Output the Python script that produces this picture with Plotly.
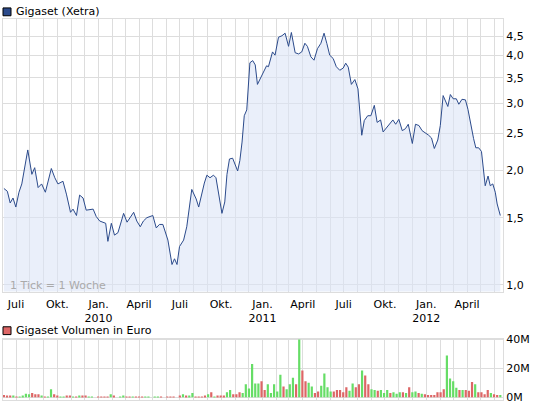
import plotly.graph_objects as go
import pandas as pd

weeks = [0.0,1.1,2.0,2.9,3.8,4.8,5.7,6.7,7.6,8.9,9.8,10.9,12.0,13.2,15.1,16.2,17.2,18.8,19.9,21.2,
         22.0,23.1,24.1,25.2,26.2,28.4,29.4,30.5,32.4,33.1,34.2,35.2,36.3,37.4,38.1,39.2,41.3,42.3,43.4,44.4,
         45.5,47.4,48.5,49.5,50.6,52.2,52.9,53.5,54.3,55.1,55.9,57.2,58.2,59.0,59.8,61.2,62.0,63.8,64.6,65.6,
         66.7,67.5,68.6,69.4,70.3,71.0,71.8,72.8,74.4,75.1,75.8,76.5,77.3,77.9,78.3,79.2,80.0,80.7,82.9,83.6,
         84.2,85.0,85.5,86.3,87.4,88.5,89.5,90.6,91.5,92.7,93.8,94.8,95.8,96.6,97.7,98.7,99.8,100.9,101.9,102.8,
         103.7,104.8,105.8,106.9,108.0,108.8,109.6,110.6,111.7,112.7,113.2,113.9,114.7,115.8,116.8,117.9,118.8,119.9,120.7,121.7,
         122.8,123.8,124.7,125.7,126.8,127.8,128.7,130.0,131.0,132.1,133.1,134.2,135.2,136.1,137.0,138.1,138.9,139.8,140.5,141.3,
         142.1,143.0,144.0,144.8,145.8,146.9,147.7,148.7,149.5,150.2,151.1,152.0,152.7,153.2,154.1,154.8,155.6,156.4,157.0,158.0]
prices = [1.79,1.76,1.64,1.69,1.60,1.75,1.84,2.07,2.26,1.95,2.03,1.80,1.84,1.75,2.02,1.91,1.84,1.87,1.73,1.55,
          1.58,1.52,1.72,1.69,1.57,1.58,1.51,1.47,1.45,1.30,1.45,1.35,1.37,1.47,1.54,1.46,1.55,1.47,1.42,1.47,
          1.50,1.52,1.41,1.44,1.44,1.31,1.20,1.13,1.17,1.13,1.26,1.31,1.42,1.60,1.78,1.68,1.60,1.85,1.94,1.91,
          1.94,1.91,1.69,1.54,1.65,1.95,2.14,2.15,1.99,2.12,2.37,2.78,2.88,3.36,3.83,3.88,3.78,3.36,3.64,3.76,
          3.74,3.97,4.09,4.01,4.47,4.51,4.58,4.23,4.60,4.07,4.04,4.09,4.31,4.23,3.97,3.89,4.17,4.31,4.58,4.30,
          4.01,3.93,3.74,3.66,3.71,3.82,3.73,3.36,3.46,3.27,2.83,2.47,2.70,2.78,2.78,2.96,2.67,2.71,2.52,2.58,
          2.64,2.71,2.64,2.72,2.54,2.57,2.64,2.35,2.64,2.62,2.54,2.51,2.47,2.43,2.28,2.40,2.62,3.14,3.04,2.94,
          3.16,3.08,3.08,2.98,3.07,3.06,2.89,2.59,2.42,2.29,2.29,2.24,2.01,1.82,1.93,1.82,1.84,1.75,1.63,1.52]

volumes = [1.5,1,1,1,0.5,0.5,1,2.5,2,3,2,2,1,0.5,0.5,5.5,2,0.8,0.5,0.5,1,1,0.5,0.5,1,1,1,0.5,0.5,0,
           0.5,0.5,0.5,0.5,2,1,0,0.5,1,0.5,0.5,0.5,0.5,0.5,0.5,0.5,0.5,0,0.5,0.5,0.5,0,0.5,0.5,0.5,0,1,2,1,1,
           3,0.5,0.5,0.5,1,2,3.5,0.5,1,1,1,3.5,5,2,2,3.5,3,9,6,23,9.5,9.5,11,5,9,3,9,4,15.5,7.5,
           5.5,9,13.5,9,40,18.5,11,10,7.5,3,4,8,16.5,7,4,4,5,5,3.5,7,4.5,9.5,7,9,18.5,15,9,5.5,5,4.5,
           5,3,5,3,3.5,2.5,3.5,3.5,3,7,3.5,4,3,2.5,2,1.5,1.5,1.5,3.5,3.5,5.5,29,13,11,6.5,5,5,5,4.5,10.5,
           9,3.5,3.5,2,5,3,2,1.5,1.5]
directions = ("rrrgrggggrrrgrggrrggrrgrgrrggr"
              "rrrrgrrggrrgrrrggrggrrrrrgrgrg"
              "grrrrgrgrrrggrrrggggggrrgggggrgg"
              "grgrrggrrggggrrrrrggrrgrrggrgg"
              "grgggrgrggrgrrrrrrrggggrgrrrgrr"
              "rrgrrgrrr")

tick_dates = ["2009-07-01","2009-10-01","2010-01-01","2010-04-01","2010-07-01","2010-10-01",
              "2011-01-01","2011-04-01","2011-07-01","2011-10-01","2012-01-01","2012-04-01"]
tick_labels = ["Juli","Okt.","Jan.<br>2010","April","Juli","Okt.","Jan.<br>2011","April","Juli","Okt.","Jan.<br>2012","April"]

start = pd.Timestamp("2009-06-04")
pdates = [start + pd.Timedelta(days=w * 7) for w in weeks]
vdates = pd.date_range("2009-06-04", periods=len(volumes), freq="7D")
dirs = (directions + "r" * len(volumes))[:len(volumes)]
vcolors = ["#66dd66" if d == "g" else "#dd6666" for d in dirs]

xr = ["2009-06-02", "2012-06-20"]
FONT = "DejaVu Sans"
grid = "#dddddd"

fig = go.Figure()
fig.add_trace(go.Scatter(x=pdates, y=[0.5]*len(prices), mode="lines", line=dict(width=0),
                         hoverinfo="skip", showlegend=False))
fig.add_trace(go.Scatter(x=pdates, y=prices, mode="lines", line=dict(color="#2b4a8b", width=1),
                         fill="tonexty", fillcolor="rgba(220,228,246,0.6)", showlegend=False))
fig.add_trace(go.Bar(x=vdates, y=volumes, marker=dict(color=vcolors, line=dict(width=0)),
                     xaxis="x2", yaxis="y2", showlegend=False))

xd = [3/545, 503/545]
fig.update_layout(
    width=545, height=410, margin=dict(l=0, r=0, t=0, b=0),
    paper_bgcolor="white", plot_bgcolor="white",
    font=dict(family=FONT, size=11, color="#000"),
    bargap=0.3,
    xaxis=dict(domain=xd, range=xr, type="date", tickvals=tick_dates, ticktext=tick_labels,
               showgrid=True, gridcolor=grid, gridwidth=1, ticks="", zeroline=False,
               showline=True, linecolor=grid, mirror=True, ticklabelstandoff=2,
               minor=dict(dtick="M1", tick0="2009-07-01", showgrid=True, gridcolor=grid, gridwidth=1)),
    yaxis=dict(domain=[1-293/410, 1-14/410], type="log", range=[-0.018, 0.699], side="right",
               tickvals=[1.0,1.5,2.0,2.5,3.0,3.5,4.0,4.5],
               ticktext=["1,0","1,5","2,0","2,5","3,0","3,5","4,0","4,5"],
               showgrid=True, gridcolor=grid, zeroline=False, showline=True, linecolor=grid, mirror=True),
    xaxis2=dict(domain=xd, range=xr, type="date", anchor="y2", showticklabels=False,
                tickvals=tick_dates, showgrid=True, gridcolor=grid, ticks="", zeroline=False,
                showline=True, linecolor=grid, mirror=True,
                minor=dict(dtick="M1", tick0="2009-07-01", showgrid=True, gridcolor=grid)),
    yaxis2=dict(domain=[1-404/410, 1-341/410], anchor="x2", range=[-2, 40.7], side="right",
                tickvals=[0,20,40], ticktext=["0M","20M","40M"],
                showgrid=True, gridcolor=grid, zeroline=False, showline=True, linecolor=grid, mirror=True),
    shapes=[
        dict(type="rect", xref="paper", yref="paper", x0=3/545, x1=11/545, y0=1-11/410, y1=1-3/410,
             fillcolor="#2b4a8b", line=dict(color="#000", width=1)),
        dict(type="rect", xref="paper", yref="paper", x0=3/545, x1=11/545, y0=1-337/410, y1=1-329/410,
             fillcolor="#dd6666", line=dict(color="#000", width=1)),
    ],
    annotations=[
        dict(text="Gigaset (Xetra)", xref="paper", yref="paper", x=14/545, y=1-7/410,
             xanchor="left", yanchor="middle", showarrow=False, font=dict(size=11)),
        dict(text="Gigaset Volumen in Euro", xref="paper", yref="paper", x=14/545, y=1-333/410,
             xanchor="left", yanchor="middle", showarrow=False, font=dict(size=11)),
        dict(text="1 Tick = 1 Woche", xref="paper", yref="paper", x=8/545, y=1-287/410,
             xanchor="left", yanchor="middle", showarrow=False, font=dict(size=11, color="#aaaaaa")),
    ],
)
fig.write_html("out.html", config={"displayModeBar": False})
with open("out.html", encoding="utf-8") as f:
    html = f.read()
html = html.replace("<head>", "<head><style>html,body{margin:0;padding:0;overflow:hidden}</style>", 1)
with open("out.html", "w", encoding="utf-8") as f:
    f.write(html)
